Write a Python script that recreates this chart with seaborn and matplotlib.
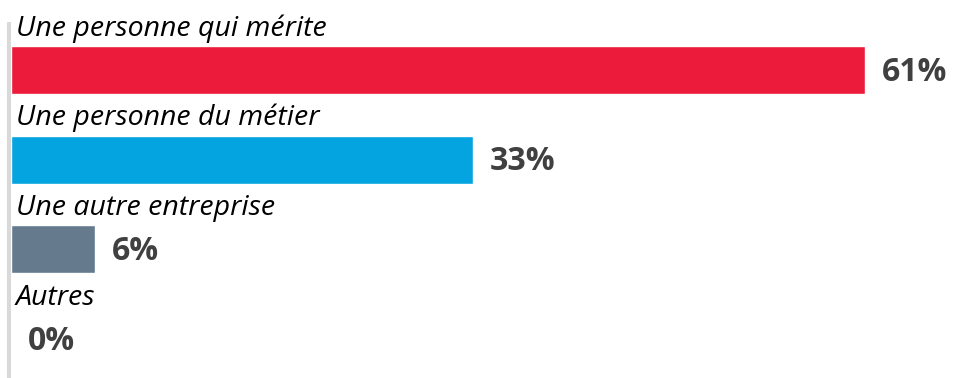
import matplotlib
matplotlib.use("Agg")
import matplotlib.pyplot as plt
import seaborn as sns
import pandas as pd

# Survey answers and their shares (%)
categories = ["Une personne qui mérite", "Une personne du métier",
              "Une autre entreprise", "Autres"]
values = [61, 33, 6, 0]
value_labels = ["61%", "33%", "6%", "0%"]
bar_colors = ["#ED1B3B", "#04A4E0", "#667A8E", "#9AA5B1"]

sns.set_theme(style="white")
plt.rcParams["font.family"] = ["Open Sans", "DejaVu Sans"]

DPI = 100
W, H = 956, 378
fig = plt.figure(figsize=(W / DPI, H / DPI), dpi=DPI)
fig.patch.set_facecolor("white")

ax_left, ax_top = 11, 24
ax = fig.add_axes([ax_left / W, 0, (W - ax_left) / W, (H - ax_top) / H])

df = pd.DataFrame({"categorie": categories, "part": values})
bar_w = 0.535
sns.barplot(data=df, x="part", y="categorie", hue="categorie",
            palette=bar_colors, legend=False, orient="h", width=bar_w,
            saturation=1, ax=ax)

px_per_unit = 854 / 61
ax.set_xlim(0, (W - ax_left) / px_per_unit)
ax.set_ylim(3.434, -0.513)

# Category names above each bar, values to the right
for i, (cat, v, lab) in enumerate(zip(categories, values, value_labels)):
    ax.annotate(cat, xy=(0, i - bar_w / 2), xytext=(3.6, 7.5),
                textcoords="offset points", ha="left", va="baseline",
                fontsize=20.5, fontstyle="italic", color="black")
    ax.annotate(lab, xy=(v, i), xytext=(12.2, -1.5),
                textcoords="offset points", ha="left", va="center",
                fontsize=23, fontweight="bold", color="#404040")

ax.set_xlabel("")
ax.set_ylabel("")
ax.set_xticks([])
ax.set_yticks([])
for side in ("top", "right", "bottom"):
    ax.spines[side].set_visible(False)
ax.spines["left"].set_color("#D9D9D9")
ax.spines["left"].set_linewidth(2.9)
ax.spines["left"].set_position(("outward", 1.44))

fig.savefig("out.png", dpi=DPI, facecolor="white")
